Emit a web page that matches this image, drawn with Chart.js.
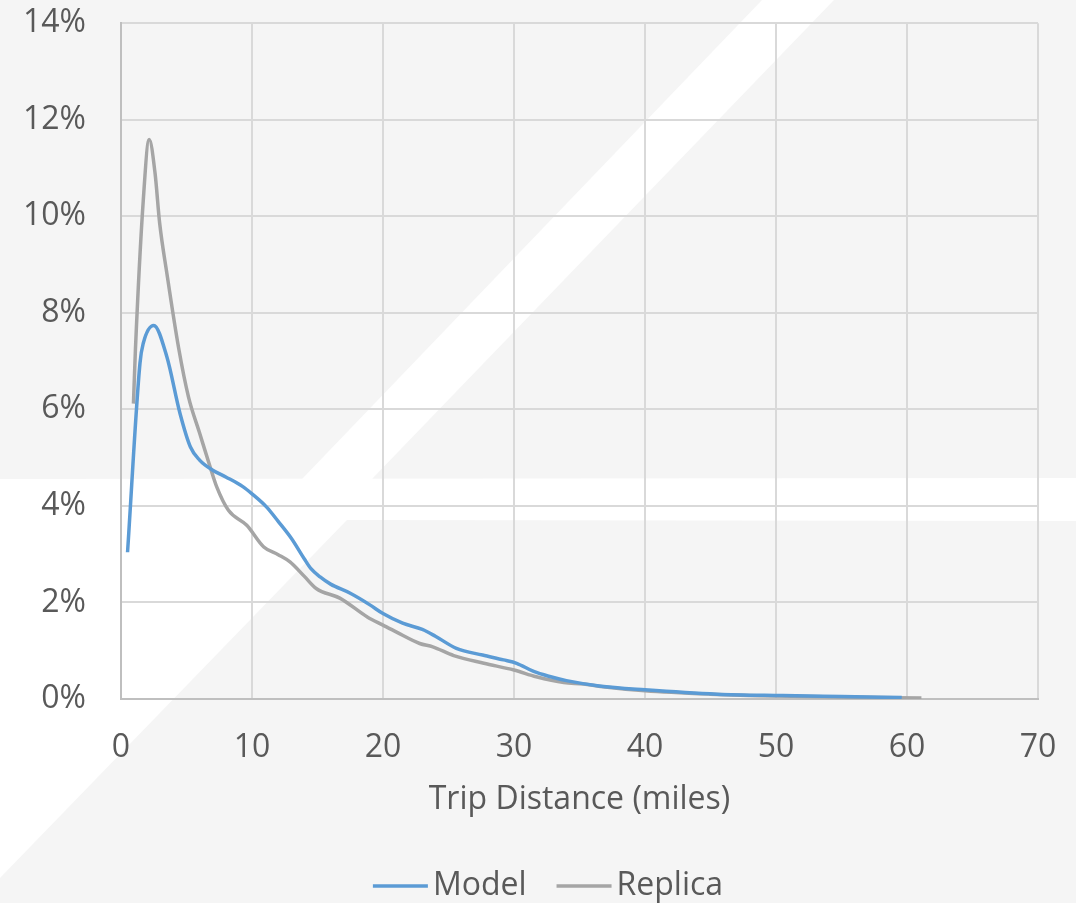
<!DOCTYPE html>
<html>
<head>
<meta charset="utf-8">
<script src="https://cdn.jsdelivr.net/npm/chart.js@4.4.1/dist/chart.umd.min.js"></script>
<style>
  html, body { margin: 0; padding: 0; background: #f5f5f5; }
  #wrap { width: 1076px; height: 903px; }
</style>
</head>
<body>
<div id="wrap"><canvas id="chart" width="1076" height="903"></canvas></div>
<script>
// trip distance (miles) and share of trips (%)
var modelMiles = [0.5, 1.45, 1.7, 2.5, 3.5, 4.5, 5.3, 6.0, 7.0, 8.0, 9.3, 10.0, 11.1, 12.0, 13.0, 14.0, 14.5, 15.2, 16.0, 17.5, 19.0, 20.0, 21.5, 23.0, 24.0, 25.6, 27.6, 29.2, 30.2, 31.5, 32.8, 34.0, 36.5, 40.0, 45.5, 50.5, 55.0, 59.6];
var modelShare = [3.04, 6.96, 7.37, 7.74, 7.09, 5.92, 5.22, 4.95, 4.74, 4.60, 4.40, 4.25, 3.98, 3.68, 3.33, 2.90, 2.70, 2.53, 2.38, 2.19, 1.95, 1.77, 1.57, 1.44, 1.30, 1.05, 0.91, 0.81, 0.74, 0.57, 0.46, 0.38, 0.27, 0.19, 0.10, 0.07, 0.05, 0.03];

var replicaMiles = [0.95, 1.1, 1.7, 2.15, 2.6, 2.95, 3.5, 4.4, 5.15, 6.0, 6.8, 7.3, 8.2, 9.6, 10.9, 12.0, 12.9, 14.0, 14.9, 16.7, 18.8, 20.0, 21.0, 22.8, 23.8, 25.4, 27.7, 30.0, 31.7, 33.8, 35.3, 36.6, 40.0, 45.0, 50.0, 55.0, 61.1];
var replicaShare = [6.12, 7.23, 10.33, 11.59, 10.89, 9.86, 8.82, 7.27, 6.26, 5.51, 4.81, 4.40, 3.91, 3.60, 3.15, 2.99, 2.84, 2.54, 2.29, 2.09, 1.70, 1.53, 1.39, 1.15, 1.08, 0.90, 0.74, 0.60, 0.46, 0.34, 0.31, 0.26, 0.17, 0.10, 0.06, 0.04, 0.02];

function toPoints(xs, ys) {
  return xs.map(function (x, i) { return { x: x, y: ys[i] }; });
}

var textColor = '#595959';
var fontFamily = "'Open Sans', 'Noto Sans', sans-serif";

// slide background: grey with white diagonal stripes
var slideBackground = {
  id: 'slideBackground',
  beforeDraw: function (chart) {
    var ctx = chart.ctx;
    ctx.save();
    ctx.fillStyle = '#f5f5f5';
    ctx.fillRect(0, 0, chart.width, chart.height);
    ctx.fillStyle = '#ffffff';
    // diagonal stripe, top half
    ctx.beginPath();
    ctx.moveTo(762, 0); ctx.lineTo(834, 0); ctx.lineTo(372, 479); ctx.lineTo(302, 479);
    ctx.closePath(); ctx.fill();
    // horizontal band + lower-left triangle
    ctx.beginPath();
    ctx.moveTo(0, 479); ctx.lineTo(chart.width, 478); ctx.lineTo(chart.width, 521);
    ctx.lineTo(347, 520); ctx.lineTo(0, 878);
    ctx.closePath(); ctx.fill();
    ctx.restore();
  }
};

// Excel-style legend: short line right next to the label, items close together
var lineLegend = {
  id: 'lineLegend',
  afterDraw: function (chart) {
    var ctx = chart.ctx;
    var sample = 55, gap = 5, itemGap = 30, y = 886;
    ctx.save();
    ctx.font = '32px ' + fontFamily;
    ctx.textBaseline = 'middle';
    var sets = chart.data.datasets;
    var total = 0;
    sets.forEach(function (ds, i) {
      total += sample + gap + ctx.measureText(ds.label).width + (i ? itemGap : 0);
    });
    var x = 548 - total / 2;
    sets.forEach(function (ds) {
      ctx.strokeStyle = ds.borderColor;
      ctx.lineWidth = 3.5;
      ctx.beginPath();
      ctx.moveTo(x, y);
      ctx.lineTo(x + sample, y);
      ctx.stroke();
      ctx.fillStyle = textColor;
      ctx.fillText(ds.label, x + sample + gap, y);
      x += sample + gap + ctx.measureText(ds.label).width + itemGap;
    });
    ctx.restore();
  }
};

new Chart(document.getElementById('chart').getContext('2d'), {
  type: 'line',
  data: {
    datasets: [{
      label: 'Model',
      data: toPoints(modelMiles, modelShare),
      borderColor: '#5b9bd5',
      backgroundColor: '#5b9bd5',
      borderWidth: 3.5,
      pointRadius: 0,
      cubicInterpolationMode: 'monotone'
    }, {
      label: 'Replica',
      data: toPoints(replicaMiles, replicaShare),
      borderColor: '#a5a5a5',
      backgroundColor: '#a5a5a5',
      borderWidth: 3.5,
      pointRadius: 0,
      cubicInterpolationMode: 'monotone'
    }]
  },
  options: {
    responsive: false,
    animation: false,
    layout: { padding: { top: 0, right: 38, left: 0, bottom: 45 } },
    plugins: {
      legend: { display: false },
      tooltip: { enabled: false }
    },
    scales: {
      x: {
        type: 'linear',
        min: 0,
        max: 70,
        ticks: { stepSize: 10, color: textColor, padding: 2, font: { family: fontFamily, size: 32 } },
        grid: { color: '#d9d9d9', lineWidth: 2, tickLength: 28, tickColor: 'rgba(0,0,0,0)' },
        border: { color: '#bfbfbf', width: 2 },
        title: {
          display: true,
          text: 'Trip Distance (miles)',
          color: textColor,
          padding: { top: 10, bottom: 39 },
          font: { family: fontFamily, size: 32 }
        },
        afterFit: function (scale) { scale.height = 159; }
      },
      y: {
        min: 0,
        max: 14,
        ticks: {
          stepSize: 2,
          color: textColor,
          padding: 4,
          font: { family: fontFamily, size: 32 },
          callback: function (v) { return v + '%'; }
        },
        grid: { color: '#d9d9d9', lineWidth: 2, tickLength: 31, tickColor: 'rgba(0,0,0,0)' },
        border: { color: '#bfbfbf', width: 2 },
        afterFit: function (scale) { scale.width = 121; }
      }
    }
  },
  plugins: [slideBackground, lineLegend]
});
</script>
</body>
</html>
